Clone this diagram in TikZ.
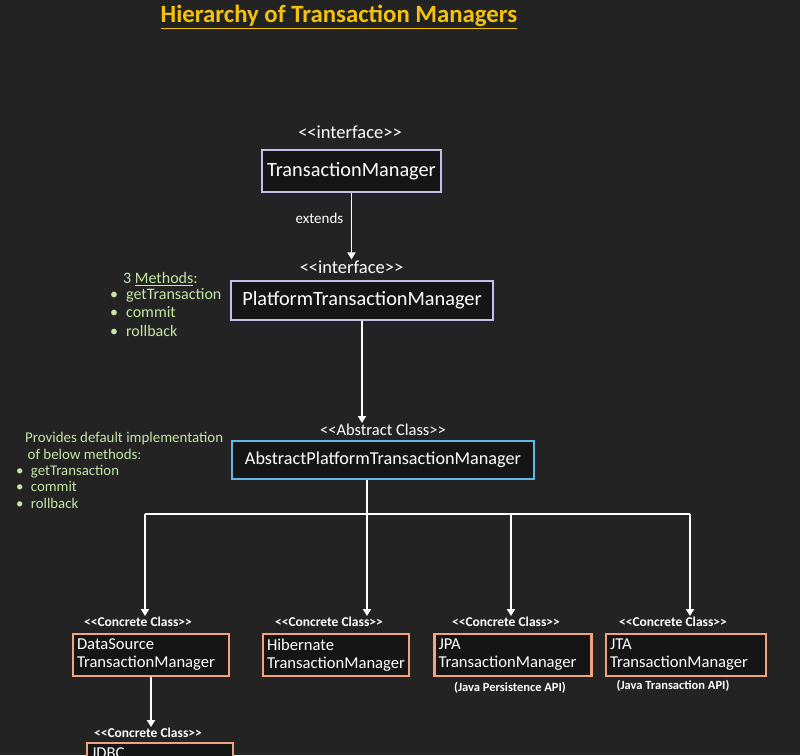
\documentclass[tikz,border=0pt]{standalone}
\usepackage{fontspec}
\setmainfont{Carlito}
\usetikzlibrary{arrows.meta,positioning}
\definecolor{bgcol}{HTML}{232323}
\definecolor{boxfill}{HTML}{151515}
\definecolor{ifacecol}{HTML}{C9BCEB}
\definecolor{abscol}{HTML}{62B7EA}
\definecolor{conccol}{HTML}{F0A37C}
\definecolor{notegreen}{HTML}{C4E6A6}
\definecolor{titlegold}{HTML}{F4C20D}
\newcommand{\umlkind}[1]{<\kern0pt<#1>\kern0pt>}
\begin{document}
\begin{tikzpicture}[x=1pt,y=-1pt,
   box/.style={draw, line width=2.2pt, fill=boxfill, text=white, inner sep=0pt},
   ifacebox/.style={box, draw=ifacecol, font=\fontsize{20.3}{23}\selectfont},
   absbox/.style={box, draw=abscol, font=\fontsize{18.2}{21}\selectfont},
   concbox/.style={box, draw=conccol, align=left, inner xsep=4pt, minimum height=42pt, font=\fontsize{16.6}{18}\selectfont},
   kind/.style={text=white, inner sep=1pt, font=\fontsize{18.5}{20}\selectfont},
   smallkind/.style={text=white, inner sep=1pt, font=\bfseries\fontsize{13.5}{15}\selectfont},
   caption/.style={text=white, inner sep=1pt, font=\bfseries\fontsize{12.5}{14}\selectfont},
   note/.style={text=notegreen, align=left, inner sep=0pt},
   arr/.style={draw=white, line width=1.8pt, -{Triangle[length=7pt,width=8pt]}},
   wire/.style={draw=white, line width=1.8pt}]%
      % ~ page
      \useasboundingbox (0,0) rectangle (800,755);%
      \clip (0,0) rectangle (800,755);%
      \fill[bgcol] (0,0) rectangle (800,755);%
      % ~ title
      \node[font=\bfseries\fontsize{24.8}{28}\selectfont, text=titlegold] (title) at (339,17) {\underline{Hierarchy of Transaction Managers}};
      % ~ interfaces
      \node[kind] (tmkind) at (350,132) {\umlkind{interface}};
      \node[ifacebox, minimum width=179pt, minimum height=42pt] (tm) at (351.5,171) {TransactionManager};
      \node[kind] (ptmkind) at (351.5,267) {\umlkind{interface}};
      \node[ifacebox, minimum width=262pt, minimum height=39pt] (ptm) at (362,300.5) {PlatformTransactionManager};
      % ~ abstract class
      \node[kind, font=\fontsize{16.5}{18}\selectfont] (apmkind) at (383,430) {\umlkind{Abstract Class}};
      \node[absbox, minimum width=302pt, minimum height=38pt] (apm) at (383,460) {AbstractPlatformTransactionManager};
      % ~ notes
      \node[note, anchor=west, font=\fontsize{16}{18.5}\selectfont] (methhead) at (123,279) {3 \underline{Methods}:};
      \node[note, anchor=north west, font=\fontsize{16}{18.5}\selectfont] (methlist) at (110,288) {\textbullet\enspace getTransaction\\\textbullet\enspace commit\\\textbullet\enspace rollback};
      \node[note, anchor=north west, font=\fontsize{14.9}{16.5}\selectfont] (defhead) at (25,432) {Provides default implementation\\\,of below methods:};
      \node[note, anchor=north west, font=\fontsize{14.8}{16.5}\selectfont] (deflist) at (16,465) {\textbullet\enspace getTransaction\\\textbullet\enspace commit\\\textbullet\enspace rollback};
      % ~ concrete classes
      \foreach \nm/\bx/\kx/\tw/\first in {ds/151/138/148/DataSource, hib/336/329/138/Hibernate, jpa/513/506/149/JPA, jta/686/673/152/JTA}%
         {%
            \node[smallkind] (\nm kind) at (\kx,622) {\umlkind{Concrete Class}};
            \node[concbox, text width=\tw pt] (\nm) at (\bx,655) {\first\\TransactionManager};
         }%
      \node[caption] (jpacap) at (510,688) {(Java Persistence API)};
      \node[caption] (jtacap) at (673,686) {(Java Transaction API)};
      \node[smallkind] (jdbckind) at (148,733) {\umlkind{Concrete Class}};
      \node[concbox, text width=138pt] (jdbc) at (160,764) {JDBC\\TransactionManager};
      % ~ connectors
      \draw[arr] (tm) -- node[left=4pt, pos=0.38, text=white, font=\fontsize{15}{17}\selectfont] (ext) {extends} (ptmkind);
      \draw[arr] (ptm) -- (ptm |- apmkind.north);
      \coordinate (bus) at (367,514);
      \coordinate (busL) at (145,514);
      \coordinate (busJ) at (511,514);
      \coordinate (busR) at (690,514);
      \draw[wire] (apm.south -| bus) -- (bus);
      \draw[wire] (busL) -- (busR);
      \draw[arr] (busL) -- (busL |- dskind.north);
      \draw[arr] (bus) -- (bus |- hibkind.north);
      \draw[arr] (busJ) -- (busJ |- jpakind.north);
      \draw[arr] (busR) -- (busR |- jtakind.north);
      \draw[arr] (ds) -- (ds |- jdbckind.north);
         %
   \end{tikzpicture}
\end{document}
